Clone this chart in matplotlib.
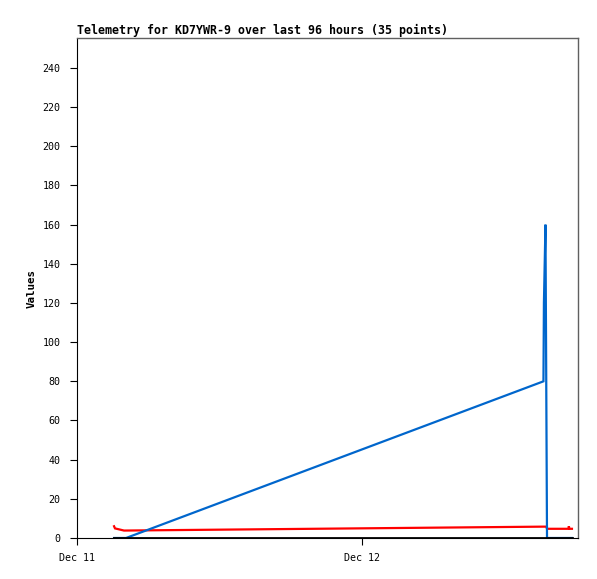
import matplotlib
matplotlib.use("Agg")
import matplotlib.pyplot as plt

# Hours since Dec 11 00:00
title = "Telemetry for KD7YWR-9 over last 96 hours (35 points)"
xtick_hours = [0, 24]
xtick_labels = ["Dec 11", "Dec 12"]
yticks = list(range(0, 241, 20))

red_t = [3.12, 3.2, 3.96, 39.30, 39.52, 39.58, 41.38, 41.42, 41.47, 41.68]
red_v = [6.0, 4.9, 3.8, 5.8, 5.8, 4.7, 4.7, 6.0, 4.7, 4.7]

blue_t = [3.12, 4.13, 39.28, 39.32, 39.45, 39.58, 41.68]
blue_v = [0, 0, 80, 120, 160, 0, 0]

black_t = [3.12, 41.68]
black_v = [0, 0]

W, H = 597, 579
fig = plt.figure(figsize=(W / 100, H / 100), dpi=100)
ax = fig.add_axes([77 / W, 1 - 538 / H, (578 - 77) / W, (538 - 38) / H])

mono = "DejaVu Sans Mono"
ax.plot(red_t, red_v, color="#ff0000", lw=1.6, solid_joinstyle="miter")
ax.plot(blue_t, blue_v, color="#0066cc", lw=1.6, solid_joinstyle="miter")
ax.plot(black_t, black_v, color="#000000", lw=2.0)

ax.set_xlim(0, (578 - 77) / 285 * 24)
ax.set_ylim(0, 255.3)
ax.set_xticks(xtick_hours)
ax.set_xticklabels(xtick_labels, fontfamily=mono, fontsize=7.2)
ax.set_yticks(yticks)
ax.set_yticklabels([str(v) for v in yticks], fontfamily=mono, fontsize=7.2)
ax.tick_params(direction="out", length=5, width=0.8, pad=6)
ax.tick_params(axis="y", pad=7)

for s in ("top", "right"):
    ax.spines[s].set_color("#606060")
    ax.spines[s].set_linewidth(1.0)
for s in ("left", "bottom"):
    ax.spines[s].set_color("#000000")
    ax.spines[s].set_linewidth(0.8)

ax.set_ylabel("Values", fontfamily=mono, fontweight="bold", fontsize=7.8, labelpad=4)
ax.set_title(title, loc="left", fontfamily=mono, fontweight="bold", fontsize=8.35, pad=3)

fig.savefig("out.png", dpi=100)
